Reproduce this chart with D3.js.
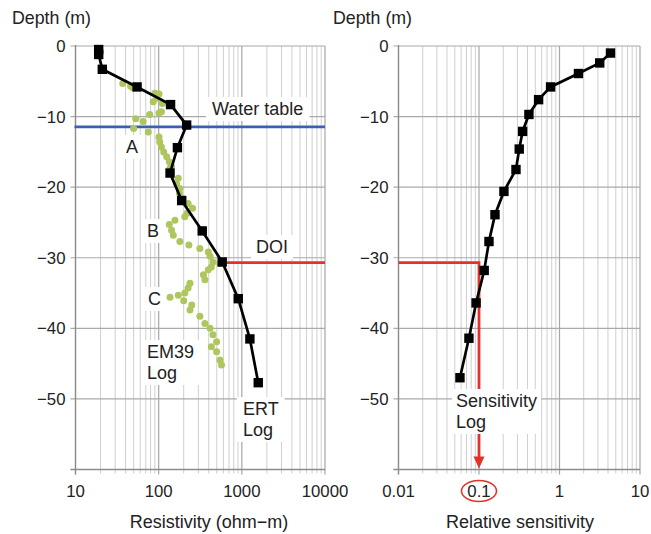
<!DOCTYPE html>
<html>
<head>
  <title>Resistivity and sensitivity logs</title>
  <script type="text/javascript" src="https://cdn.jsdelivr.net/npm/d3@7/dist/d3.min.js"></script>
  <style>
    body { margin: 0; background: #fff; }
    text { font-family: "Liberation Sans", Arial, sans-serif; fill: #222; }
  </style>
</head>
<body>
  <div id="container"></div>
  <script type="text/javascript">
    // ERT log (black squares)
    var ertDepth = [-0.5, -1.2, -3.3, -5.8, -8.3, -11.2, -14.4, -18.0, -21.9, -26.2, -30.6, -35.8, -41.5, -47.7];
    var ertRes   = [19, 19, 21, 55, 139, 217, 168, 137, 189, 334, 581, 906, 1250, 1575];

    // EM39 log (green dots)
    var emDepth = [-5.3, -5.7, -5.9, -6.7, -6.8, -7.4, -7.9, -8.15, -9.3, -9.5, -9.7, -10.3, -10.7, -11.7, -12.2,
                   -12.9, -13.6, -14.3, -15.0, -15.7, -16.4, -17.1, -17.3, -18.0, -18.75, -19.5, -20.2, -20.9,
                   -21.6, -22.3, -23.0, -23.7, -24.2, -24.7, -25.3, -26.1, -26.8, -27.7, -28.2, -28.7, -29.2,
                   -29.8, -30.6, -30.8, -31.3, -31.7, -32.4, -33.1, -33.6, -34.3, -35.0, -35.3, -35.6, -36.1,
                   -36.7, -37.4, -38.3, -39.3, -40.0, -40.9, -41.9, -42.6, -43.3, -44.5, -45.2];
    var emRes   = [37, 46, 49, 90, 101, 95, 86, 111, 108, 101, 78, 53, 65, 50, 75,
                   101, 103, 108, 115, 125, 134, 143, 137, 140, 172, 164, 180, 178,
                   197, 226, 256, 220, 206, 157, 134, 143, 150, 180, 231, 313, 395,
                   415, 450, 545, 430, 395, 345, 360, 238, 226, 206, 172, 137, 200,
                   250, 238, 313, 360, 415, 450, 497, 430, 497, 545, 570];

    // sensitivity log
    var sensDepth = [-1.0, -2.4, -3.9, -5.8, -7.6, -9.7, -12.1, -14.6, -17.5, -20.6, -23.9, -27.7, -31.8, -36.4, -41.4, -47.0];
    var sensVal   = [4.3, 3.16, 1.72, 0.775, 0.55, 0.417, 0.348, 0.316, 0.288, 0.204, 0.158, 0.133, 0.116, 0.092, 0.075, 0.058];

    var waterTable = -11.45;
    var doiDepth = -30.7;
    var doiSens = 0.1;

    var depthTicks = [0, -10, -20, -30, -40, -50, -60];
    var depthLabels = ['0', '\u221210', '\u221220', '\u221230', '\u221240', '\u221250', ''];
    var resTicks = [10, 100, 1000, 10000];
    var resLabels = ['10', '100', '1000', '10000'];
    var sensTicks = [0.01, 0.1, 1, 10];
    var sensLabels = ['0.01', '0.1', '1', '10'];

    var width = 651, height = 534;
    var svg = d3.select('#container').append('svg')
      .attr('width', width).attr('height', height);

    var y = d3.scaleLinear().domain([0, -60]).range([46, 469.5]);
    var xL = d3.scaleLog().domain([10, 10000]).range([75.5, 325]);
    var xR = d3.scaleLog().domain([0.01, 10]).range([398.5, 640]);

    function panel(x, majors, labels, title, titleX, ylabX) {
      var g = svg.append('g');
      var minors = x.ticks().filter(v => majors.indexOf(v) < 0);
      var y0 = y.range()[0], y1 = y.range()[1];
      var x0 = x.range()[0], x1 = x.range()[1];
      // minor verticals
      g.selectAll('.minor').data(minors).enter().append('line')
        .attr('x1', d => x(d)).attr('x2', d => x(d))
        .attr('y1', y0).attr('y2', y1 + 4)
        .attr('stroke', '#cfcfcf').attr('stroke-width', 1);
      // major verticals
      g.selectAll('.major').data(majors).enter().append('line')
        .attr('x1', d => x(d)).attr('x2', d => x(d))
        .attr('y1', y0).attr('y2', y1 + 5)
        .attr('stroke', '#a6a6a6').attr('stroke-width', 1.2);
      // horizontals
      g.selectAll('.hz').data(depthTicks).enter().append('line')
        .attr('x1', x0 - 5).attr('x2', x1)
        .attr('y1', d => y(d)).attr('y2', d => y(d))
        .attr('stroke', '#aaaaaa').attr('stroke-width', 1.2);
      // axis lines
      g.append('line').attr('x1', x0).attr('x2', x0).attr('y1', y0 - 1).attr('y2', y1 + 5)
        .attr('stroke', '#8c8c8c').attr('stroke-width', 1.3);
      g.append('line').attr('x1', x0 - 5).attr('x2', x1).attr('y1', y1).attr('y2', y1)
        .attr('stroke', '#8c8c8c').attr('stroke-width', 1.3);
      // y tick labels
      g.selectAll('.yl').data(depthTicks).enter().append('text')
        .attr('x', x0 - 10).attr('y', d => y(d) + 6)
        .attr('text-anchor', 'end').style('font-size', '16.8px')
        .text((d, i) => depthLabels[i]);
      // x tick labels
      g.selectAll('.xl').data(majors).enter().append('text')
        .attr('x', d => x(d)).attr('y', 497)
        .attr('text-anchor', 'middle').style('font-size', '16.8px')
        .text((d, i) => labels[i]);
      g.append('text').attr('x', titleX).attr('y', 528)
        .attr('text-anchor', 'middle').style('font-size', '18px').text(title);
      g.append('text').attr('x', ylabX).attr('y', 24)
        .style('font-size', '17.8px').text('Depth (m)');
      return g;
    }

    panel(xL, resTicks, resLabels, 'Resistivity (ohm\u2212m)', 209, 12);
    panel(xR, sensTicks, sensLabels, 'Relative sensitivity', 520, 333);

    var red = '#e2322b';
    // water table
    svg.append('line')
      .attr('x1', xL.range()[0] - 1).attr('x2', xL.range()[1])
      .attr('y1', y(waterTable)).attr('y2', y(waterTable))
      .attr('stroke', '#3c5fb4').attr('stroke-width', 2.8);
    // DOI left
    svg.append('line')
      .attr('x1', xL(ertRes[10])).attr('x2', xL.range()[1])
      .attr('y1', y(doiDepth)).attr('y2', y(doiDepth))
      .attr('stroke', red).attr('stroke-width', 2.8);
    // DOI right
    svg.append('path')
      .attr('d', d3.line()([[xR.range()[0], y(doiDepth)], [xR(doiSens), y(doiDepth)], [xR(doiSens), y(-60) - 10]]))
      .attr('fill', 'none').attr('stroke', red).attr('stroke-width', 2.8);
    svg.append('path')
      .attr('d', d3.line()([[xR(doiSens) - 5.5, y(-60) - 13], [xR(doiSens) + 5.5, y(-60) - 13], [xR(doiSens), y(-60) - 1]]) + 'Z')
      .attr('fill', red);

    // EM39 dots
    svg.append('g').selectAll('circle').data(emDepth).enter().append('circle')
      .attr('cx', (d, i) => xL(emRes[i])).attr('cy', d => y(d))
      .attr('r', 3.5).attr('fill', '#aec65e');

    function squares(x, vals, depths) {
      var pts = depths.map((d, i) => [x(vals[i]), y(d)]);
      svg.append('path').attr('d', d3.line()(pts))
        .attr('fill', 'none').attr('stroke', '#000').attr('stroke-width', 2.7);
      svg.append('g').selectAll('rect').data(pts).enter().append('rect')
        .attr('x', d => d[0] - 4.7).attr('y', d => d[1] - 4.7)
        .attr('width', 9.4).attr('height', 9.4).attr('fill', '#000');
    }
    squares(xL, ertRes, ertDepth);
    squares(xR, sensVal, sensDepth);

    // annotations with white boxes
    function note(lines, x0, base, pad) {
      var g = svg.append('g');
      var box = g.append('rect').attr('fill', '#fff');
      var t = g.append('text').style('font-size', '18px');
      lines.forEach((s, i) => t.append('tspan').attr('x', x0).attr('y', base + i * 21).text(s));
      var b = t.node().getBBox();
      box.attr('x', b.x - pad).attr('y', b.y - 2).attr('width', b.width + 2 * pad).attr('height', b.height + 4);
    }
    note(['Water table'], 212, 115, 6);
    note(['A'], 126, 153, 4);
    note(['B'], 147, 237, 4);
    note(['C'], 148, 305, 4);
    note(['DOI'], 256, 253, 5);
    note(['EM39', 'Log'], 147, 358, 5);
    note(['ERT', 'Log'], 243, 415, 6);
    note(['Sensitivity', 'Log'], 456, 407, 4);

    // circle around 0.1
    svg.append('ellipse')
      .attr('cx', xR(doiSens)).attr('cy', 491)
      .attr('rx', 17.5).attr('ry', 10.5)
      .attr('fill', 'none').attr('stroke', red).attr('stroke-width', 1.6);
  </script>
</body>
</html>
